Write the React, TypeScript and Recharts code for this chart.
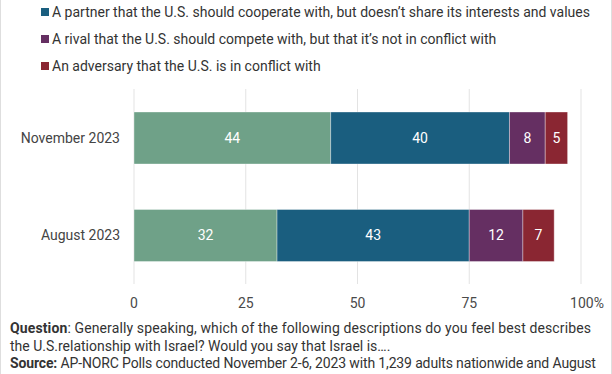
import React from 'react';
import { BarChart, Bar, XAxis, YAxis, CartesianGrid, LabelList } from 'recharts';

const periods = ['November 2023', 'August 2023'];
const ally = [44, 32];
const partner = [40, 43];
const rival = [8, 12];
const adversary = [5, 7];
const xTicks = [0, 25, 50, 75, 100];

const seriesNames = [
  'A partner that the U.S. should cooperate with, but doesn\u2019t share its interests and values',
  'A rival that the U.S. should compete with, but that it\u2019s not in conflict with',
  'An adversary that the U.S. is in conflict with',
];

const colors = {
  ally: '#6fa188',
  partner: '#1a5e7f',
  rival: '#652f62',
  adversary: '#8a2632',
};

const chartData = periods.map((p, i) => ({
  period: p,
  ally: ally[i],
  partner: partner[i],
  rival: rival[i],
  adversary: adversary[i],
}));

const font = 'Roboto, "Noto Sans", sans-serif';

const XTick = (props: any) => {
  const { x, y, payload } = props;
  const isMax = payload.value === 100;
  return (
    <text x={x + (isMax ? 6 : 0)} y={y} dy="0.71em" textAnchor="middle" fill="#4a4a4a" fontSize={14} fontFamily={font}>
      {isMax ? '100%' : payload.value}
    </text>
  );
};

export default function App() {
  const legendItems = [
    { name: seriesNames[0], color: colors.partner },
    { name: seriesNames[1], color: colors.rival },
    { name: seriesNames[2], color: colors.adversary },
  ];

  return (
    <div
      style={{
        position: 'fixed',
        left: 0,
        top: 0,
        width: 612,
        height: 374,
        overflow: 'hidden',
        background: '#fff',
        fontFamily: font,
        boxSizing: 'border-box',
        borderLeft: '1px solid #dedede',
        borderRight: '1px solid #dedede',
      }}
    >
      {/* legend */}
      {legendItems.map((item, i) => (
        <div
          key={item.name}
          style={{
            position: 'absolute',
            left: 40,
            top: 3 + i * 27,
            height: 18,
            display: 'flex',
            alignItems: 'center',
            fontSize: 14,
            color: '#333',
            whiteSpace: 'nowrap',
          }}
        >
          <span style={{ display: 'inline-block', width: 8, height: 8, background: item.color, marginRight: 3 }} />
          {item.name}
        </div>
      ))}

      <div style={{ position: 'absolute', left: -1, top: 0 }}>
        <BarChart
          width={612}
          height={312}
          data={chartData}
          layout="vertical"
          margin={{ top: 89, right: 31, bottom: 0, left: 0 }}
          barSize={52}
        >
          <CartesianGrid horizontal={false} stroke="#e3e3e3" />
          <XAxis
            type="number"
            domain={[0, 100]}
            ticks={xTicks}
            axisLine={false}
            tickLine={false}
            height={28}
            tickMargin={8}
            tick={<XTick />}
            interval={0}
          />
          <YAxis
            type="category"
            dataKey="period"
            width={134}
            axisLine={false}
            tickLine={false}
            tickMargin={8}
            tick={{ fill: '#444', fontSize: 14, fontFamily: font }}
          />
          <Bar dataKey="ally" stackId="a" fill={colors.ally} stroke="#ffffff" strokeOpacity={0.35} isAnimationActive={false}>
            <LabelList dataKey="ally" position="center" fill="#fff" fontSize={14} fontFamily={font} />
          </Bar>
          <Bar dataKey="partner" stackId="a" fill={colors.partner} stroke="#ffffff" strokeOpacity={0.35} isAnimationActive={false}>
            <LabelList dataKey="partner" position="center" fill="#fff" fontSize={14} fontFamily={font} />
          </Bar>
          <Bar dataKey="rival" stackId="a" fill={colors.rival} stroke="#ffffff" strokeOpacity={0.35} isAnimationActive={false}>
            <LabelList dataKey="rival" position="center" fill="#fff" fontSize={14} fontFamily={font} />
          </Bar>
          <Bar dataKey="adversary" stackId="a" fill={colors.adversary} stroke="#ffffff" strokeOpacity={0.35} isAnimationActive={false}>
            <LabelList dataKey="adversary" position="center" fill="#fff" fontSize={14} fontFamily={font} />
          </Bar>
        </BarChart>
      </div>

      <div
        style={{
          position: 'absolute',
          left: 9,
          top: 320,
          width: 600,
          fontSize: 14,
          lineHeight: '17.6px',
          color: '#333',
        }}
      >
        <div style={{ whiteSpace: 'nowrap', letterSpacing: 0.12 }}>
          <b>Question</b>: Generally speaking, which of the following descriptions do you feel best describes
        </div>
        <div style={{ whiteSpace: 'nowrap' }}>the U.S.relationship with Israel? Would you say that Israel is….</div>
        <div style={{ whiteSpace: 'nowrap', letterSpacing: -0.14 }}>
          <b>Source:</b> AP-NORC Polls conducted November 2-6, 2023 with 1,239 adults nationwide and August
        </div>
      </div>
    </div>
  );
}
